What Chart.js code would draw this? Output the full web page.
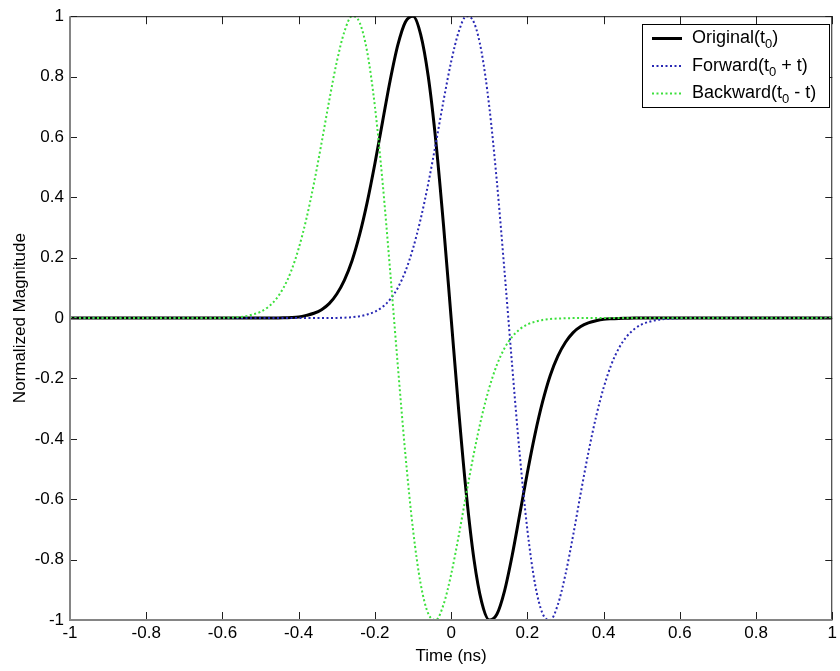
<!DOCTYPE html>
<html>
<head>
<meta charset="utf-8">
<script src="https://cdn.jsdelivr.net/npm/chart.js@4.4.0/dist/chart.umd.min.js"></script>
<style>
  html, body { margin: 0; padding: 0; background: #fff; }
</style>
</head>
<body>
<canvas id="grafica-pulso" width="840" height="671"></canvas>
<script>
// tiempo (ns) cada 0.02
const tiempos = [
  -1.00, -0.98, -0.96, -0.94, -0.92, -0.90, -0.88, -0.86, -0.84, -0.82,
  -0.80, -0.78, -0.76, -0.74, -0.72, -0.70, -0.68, -0.66, -0.64, -0.62,
  -0.60, -0.58, -0.56, -0.54, -0.52, -0.50, -0.48, -0.46, -0.44, -0.42,
  -0.40, -0.38, -0.36, -0.34, -0.32, -0.30, -0.28, -0.26, -0.24, -0.22,
  -0.20, -0.18, -0.16, -0.14, -0.12, -0.10, -0.08, -0.06, -0.04, -0.02,
  0.00, 0.02, 0.04, 0.06, 0.08, 0.10, 0.12, 0.14, 0.16, 0.18,
  0.20, 0.22, 0.24, 0.26, 0.28, 0.30, 0.32, 0.34, 0.36, 0.38,
  0.40, 0.42, 0.44, 0.46, 0.48, 0.50, 0.52, 0.54, 0.56, 0.58,
  0.60, 0.62, 0.64, 0.66, 0.68, 0.70, 0.72, 0.74, 0.76, 0.78,
  0.80, 0.82, 0.84, 0.86, 0.88, 0.90, 0.92, 0.94, 0.96, 0.98,
  1.00
];

const original = [
  0, 0, 0, 0, 0, 0, 0, 0, 0, 0,
  0, 0, 0, 0, 0, 0, 0, 0, 0, 0,
  0, 0, 0, 0, 0, 0, 0, 0.0005, 0.001, 0.002,
  0.004, 0.009, 0.016, 0.028, 0.048, 0.080, 0.126, 0.190, 0.277, 0.385,
  0.512, 0.650, 0.787, 0.904, 0.981, 1.000, 0.940, 0.800, 0.584, 0.308,
  0, -0.308, -0.584, -0.800, -0.940, -1.000, -0.981, -0.904, -0.787, -0.650,
  -0.512, -0.385, -0.277, -0.190, -0.126, -0.080, -0.048, -0.028, -0.016, -0.009,
  -0.004, -0.002, -0.001, -0.0005, 0, 0, 0, 0, 0, 0,
  0, 0, 0, 0, 0, 0, 0, 0, 0, 0,
  0, 0, 0, 0, 0, 0, 0, 0, 0, 0,
  0
];

const adelante = [
  0, 0, 0, 0, 0, 0, 0, 0, 0, 0,
  0, 0, 0, 0, 0, 0, 0, 0, 0, 0,
  0, 0, 0, 0, 0, 0, 0, 0, 0, 0,
  0, 0, 0, 0, 0.0003, 0.0007, 0.0015, 0.003, 0.006, 0.012,
  0.021, 0.037, 0.062, 0.100, 0.155, 0.231, 0.328, 0.446, 0.580, 0.720,
  0.849, 0.949, 1.000, 0.979, 0.880, 0.701, 0.452, 0.156, -0.156, -0.452,
  -0.701, -0.880, -0.979, -1.000, -0.949, -0.849, -0.720, -0.580, -0.446, -0.328,
  -0.231, -0.155, -0.100, -0.062, -0.037, -0.021, -0.012, -0.006, -0.003, -0.0015,
  -0.0007, 0, 0, 0, 0, 0, 0, 0, 0, 0,
  0, 0, 0, 0, 0, 0, 0, 0, 0, 0,
  0
];

const atras = [
  0, 0, 0, 0, 0, 0, 0, 0, 0, 0,
  0, 0, 0, 0, 0, 0, 0, 0, 0, 0,
  0.0007, 0.0015, 0.003, 0.006, 0.012, 0.021, 0.037, 0.062, 0.100, 0.155,
  0.231, 0.328, 0.446, 0.580, 0.720, 0.849, 0.949, 1.000, 0.979, 0.880,
  0.701, 0.452, 0.156, -0.156, -0.452, -0.701, -0.880, -0.979, -1.000, -0.949,
  -0.849, -0.720, -0.580, -0.446, -0.328, -0.231, -0.155, -0.100, -0.062, -0.037,
  -0.021, -0.012, -0.006, -0.003, -0.0015, -0.0007, 0, 0, 0, 0,
  0, 0, 0, 0, 0, 0, 0, 0, 0, 0,
  0, 0, 0, 0, 0, 0, 0, 0, 0, 0,
  0, 0, 0, 0, 0, 0, 0, 0, 0, 0,
  0
];

const ticksX = [-1, -0.8, -0.6, -0.4, -0.2, 0, 0.2, 0.4, 0.6, 0.8, 1];
const etiquetasX = ['-1', '-0.8', '-0.6', '-0.4', '-0.2', '0', '0.2', '0.4', '0.6', '0.8', '1'];
const ticksY = [-1, -0.8, -0.6, -0.4, -0.2, 0, 0.2, 0.4, 0.6, 0.8, 1];
const etiquetasY = ['-1', '-0.8', '-0.6', '-0.4', '-0.2', '0', '0.2', '0.4', '0.6', '0.8', '1'];

// texto, subindice, resto
const nombres = [
  ['Original(t', '0', ')'],
  ['Forward(t', '0', ' + t)'],
  ['Backward(t', '0', ' - t)']
];
const colores = ['#000000', '#2828b4', '#3ce03c'];

const fuente = 'Arial, "Liberation Sans", Helvetica, sans-serif';

function puntos(valores) {
  return tiempos.map((t, i) => ({ x: t, y: valores[i] }));
}

// caja y marcas hacia adentro, estilo matlab
const marcos = {
  id: 'marcos',
  afterDatasetsDraw(chart) {
    const { ctx, chartArea: a, scales } = chart;
    const sx = scales.x, sy = scales.y;
    ctx.save();
    ctx.strokeStyle = '#202020';
    ctx.lineWidth = 1;
    ctx.beginPath();
    ticksX.forEach(v => {
      const px = Math.round(sx.getPixelForValue(v)) + 0.5;
      ctx.moveTo(px, a.bottom); ctx.lineTo(px, a.bottom - 8);
      ctx.moveTo(px, a.top); ctx.lineTo(px, a.top + 8);
    });
    ticksY.forEach(v => {
      const py = Math.round(sy.getPixelForValue(v)) + 0.5;
      ctx.moveTo(a.left, py); ctx.lineTo(a.left + 7, py);
      ctx.moveTo(a.right, py); ctx.lineTo(a.right - 7, py);
    });
    ctx.stroke();

    ctx.strokeStyle = '#1a1a1a';
    ctx.beginPath();
    ctx.moveTo(a.left, a.top + 0.5); ctx.lineTo(a.right, a.top + 0.5);
    ctx.moveTo(a.right - 0.5, a.top); ctx.lineTo(a.right - 0.5, a.bottom);
    ctx.stroke();

    ctx.strokeStyle = '#858585';
    ctx.lineWidth = 2;
    ctx.beginPath();
    ctx.moveTo(a.left, a.top); ctx.lineTo(a.left, a.bottom);
    ctx.lineTo(a.right, a.bottom);
    ctx.stroke();
    ctx.restore();
  }
};

const leyenda = {
  id: 'leyenda',
  afterDraw(chart) {
    const ctx = chart.ctx;
    const caja = { x: 642.5, y: 24.5, w: 187, h: 83 };
    ctx.save();
    ctx.fillStyle = '#fff';
    ctx.fillRect(caja.x, caja.y, caja.w, caja.h);
    ctx.strokeStyle = '#000';
    ctx.lineWidth = 1;
    ctx.strokeRect(caja.x, caja.y, caja.w, caja.h);

    const filas = [38.5, 66, 93.5];
    nombres.forEach((n, i) => {
      const y = filas[i];
      ctx.beginPath();
      ctx.strokeStyle = colores[i];
      if (i === 0) {
        ctx.lineWidth = 3;
        ctx.setLineDash([]);
      } else {
        ctx.lineWidth = 2;
        ctx.setLineDash([2, 2.5]);
      }
      ctx.moveTo(652, y);
      ctx.lineTo(682, y);
      ctx.stroke();
      ctx.setLineDash([]);

      ctx.fillStyle = '#000';
      ctx.textBaseline = 'middle';
      let x = 692;
      ctx.font = '18px ' + fuente;
      ctx.fillText(n[0], x, y);
      x += ctx.measureText(n[0]).width;
      ctx.font = '13px ' + fuente;
      ctx.fillText(n[1], x, y + 6);
      x += ctx.measureText(n[1]).width;
      ctx.font = '18px ' + fuente;
      ctx.fillText(n[2], x, y);
    });
    ctx.restore();
  }
};

const ctx = document.getElementById('grafica-pulso').getContext('2d');
new Chart(ctx, {
  type: 'line',
  data: {
    datasets: [
      {
        label: 'Original',
        data: puntos(original),
        borderColor: colores[0],
        borderWidth: 3,
        pointRadius: 0,
        cubicInterpolationMode: 'monotone',
        order: 2
      },
      {
        label: 'Forward',
        data: puntos(adelante),
        borderColor: colores[1],
        borderWidth: 2,
        borderDash: [2, 2.5],
        pointRadius: 0,
        cubicInterpolationMode: 'monotone',
        order: 1
      },
      {
        label: 'Backward',
        data: puntos(atras),
        borderColor: colores[2],
        borderWidth: 2,
        borderDash: [2, 2.5],
        pointRadius: 0,
        cubicInterpolationMode: 'monotone',
        order: 0
      }
    ]
  },
  options: {
    responsive: false,
    animation: false,
    devicePixelRatio: 1,
    layout: { padding: { top: 15, right: 5, left: 0, bottom: 0 } },
    plugins: {
      legend: { display: false },
      tooltip: { enabled: false }
    },
    scales: {
      x: {
        type: 'linear',
        min: -1,
        max: 1,
        afterBuildTicks: s => { s.ticks = ticksX.map(v => ({ value: v })); },
        afterFit: s => { s.height = 51; },
        ticks: {
          callback: (v, i) => etiquetasX[i],
          color: '#000',
          font: { family: fuente, size: 17 },
          padding: 3,
          maxRotation: 0,
          autoSkip: false
        },
        grid: { display: false, drawTicks: false },
        border: { display: false },
        title: {
          display: true,
          text: 'Time (ns)',
          color: '#000',
          font: { family: fuente, size: 17 },
          padding: { top: 0, bottom: 4 }
        }
      },
      y: {
        type: 'linear',
        min: -1,
        max: 1,
        afterBuildTicks: s => { s.ticks = ticksY.map(v => ({ value: v })); },
        afterFit: s => { s.width = 70; },
        ticks: {
          callback: (v, i) => etiquetasY[i],
          color: '#000',
          font: { family: fuente, size: 17 },
          padding: 6,
          autoSkip: false
        },
        grid: { display: false, drawTicks: false },
        border: { display: false },
        title: {
          display: true,
          text: 'Normalized Magnitude',
          color: '#000',
          font: { family: fuente, size: 17 },
          padding: { top: 10, bottom: 0 }
        }
      }
    }
  },
  plugins: [marcos, leyenda]
});
</script>
</body>
</html>
